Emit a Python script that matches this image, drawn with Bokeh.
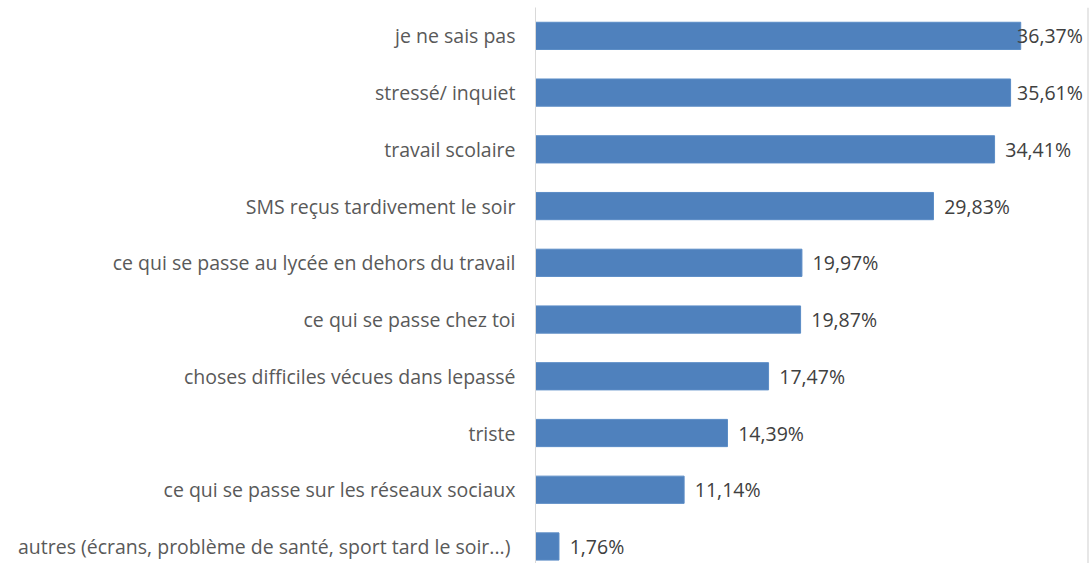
from bokeh.plotting import figure
from bokeh.models import Range1d, FixedTicker, Span, ColumnDataSource
from bokeh.core.properties import value
from bokeh.embed import file_html
from bokeh.resources import INLINE
import numpy as np

categories = [
    "je ne sais pas",
    "stressé/ inquiet",
    "travail scolaire",
    "SMS reçus tardivement le soir",
    "ce qui se passe au lycée en dehors du travail",
    "ce qui se passe chez toi",
    "choses difficiles vécues dans lepassé",
    "triste",
    "ce qui se passe sur les réseaux sociaux",
    "autres (écrans, problème de santé,  sport tard le soir...)",
]
values = [36.37, 35.61, 34.41, 29.83, 19.97, 19.87, 17.47, 14.39, 11.14, 1.76]
value_labels = ["36,37%", "35,61%", "34,41%", "29,83%", "19,97%", "19,87%",
                "17,47%", "14,39%", "11,14%", "1,76%"]

pos = list(range(len(categories)))
x_end = 41.45
label_x = list(np.minimum(np.array(values) + 0.8, 36.1))

src = ColumnDataSource(dict(y=pos, v=values, lx=label_x, lab=value_labels))

p = figure(width=1091, height=563, output_backend="svg", toolbar_location=None,
           x_range=Range1d(0, x_end), y_range=Range1d(9.3, -0.5),
           min_border_left=535, min_border_right=3, min_border_top=7, min_border_bottom=0)
p.outline_line_color = None
p.grid.visible = False
p.xaxis.visible = False
p.background_fill_color = "white"
p.border_fill_color = "white"

p.hbar(y="y", right="v", left=0, height=0.48, source=src,
       fill_color="#4F81BD", line_color="#5B8CC6", line_width=1)

p.text(x="lx", y="y", text="lab", source=src, text_baseline="middle", text_align="left",
       text_font=value("Open Sans"), text_font_size="19.5px", text_color="#404040")

ya = p.yaxis[0]
ya.ticker = FixedTicker(ticks=pos)
ya.major_label_overrides = {i: c for i, c in enumerate(categories)}
ya.major_tick_line_color = None
ya.minor_tick_line_color = None
ya.axis_line_color = "#D9D9D9"
ya.major_label_standoff = 14
ya.major_label_text_font = "Open Sans"
ya.major_label_text_font_size = "19.5px"
ya.major_label_text_color = "#595959"

p.add_layout(Span(location=x_end, dimension="height", line_color="#D0D0D0", line_width=2))

open("out.html", "w").write(file_html(p, INLINE))
